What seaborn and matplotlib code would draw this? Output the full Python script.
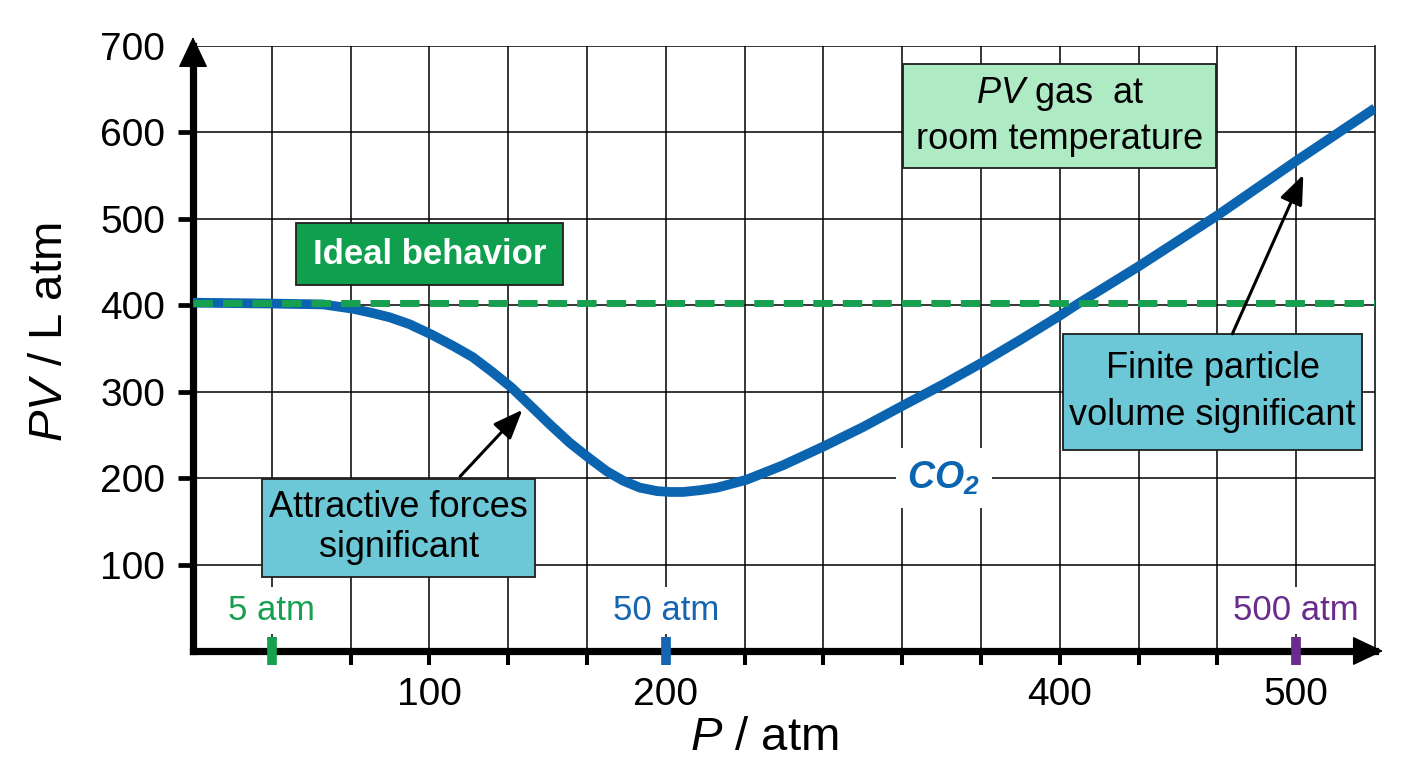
import matplotlib
matplotlib.use("Agg")
import matplotlib.pyplot as plt
from matplotlib.patches import Rectangle
import seaborn as sns

# pressure axis is measured in grid divisions (printed values are not evenly spaced)
p_grid = [0, 1.0, 1.65, 2.03, 2.28, 2.5, 2.75, 3.03, 3.3, 3.55, 3.81, 4.04, 4.28,
          4.53, 4.78, 5.03, 5.25, 5.46, 5.67, 5.89, 6.05, 6.22, 6.43, 6.65, 7.02,
          7.49, 8.01, 8.5, 9.01, 9.51, 10.0, 10.5, 11.0, 11.2, 12.0, 13.0, 14.0, 15.0]
pv_co2 = [403, 402, 401, 396, 391, 386, 378, 366, 353, 340, 322, 305, 284,
          262, 241, 223, 208, 197, 189, 185, 184, 184, 186, 189, 198,
          215, 237, 259, 284, 308, 333, 360, 388, 400, 445, 504, 567, 628]
ideal_pv = 403

pv_ticks = [100, 200, 300, 400, 500, 600, 700]
p_tick_pos = [3, 6, 11, 14]
p_tick_labels = ["100", "200", "400", "500"]
p_gridlines = list(range(1, 15))
p_marker_pos = [1, 6, 14]
p_marker_labels = ["5 atm", "50 atm", "500 atm"]

BLUE = "#0b64b0"
GREEN = "#17a04f"
marker_colors = ["#17a04f", "#1565b0", "#6a2c8c"]

sns.set_theme(style="white")
plt.rcParams["font.family"] = ["Liberation Sans", "DejaVu Sans"]
plt.rcParams["text.color"] = "black"
plt.rcParams["axes.labelcolor"] = "black"
plt.rcParams["mathtext.fontset"] = "custom"
plt.rcParams["mathtext.rm"] = "Liberation Sans"
plt.rcParams["mathtext.it"] = "Liberation Sans:italic"
plt.rcParams["mathtext.bf"] = "Liberation Sans:bold"
plt.rcParams["mathtext.bfit"] = "Liberation Sans:italic:bold"

W, H = 1408, 768
fig = plt.figure(figsize=(W / 100, H / 100), dpi=100)
ax = fig.add_axes([193 / W, 1 - 651 / H, (1375 - 193) / W, 605 / H])

# CO2 curve and ideal gas line
sns.lineplot(x=p_grid, y=pv_co2, ax=ax, color=BLUE, linewidth=7,
             estimator=None, sort=False, solid_capstyle="butt",
             solid_joinstyle="round", zorder=3)
ax.axhline(ideal_pv, color=GREEN, linewidth=5, dashes=(2.8, 1.45), zorder=4)

ax.set_xlim(0, 15)
ax.set_ylim(0, 700)
ax.set_xticks(p_tick_pos, p_tick_labels)
ax.set_xticks([k for k in p_gridlines if k not in p_tick_pos], minor=True)
ax.set_yticks(pv_ticks)
ax.set_axisbelow(True)
ax.grid(True, which="both", axis="x", color="black", linewidth=1.1)
ax.grid(True, which="major", axis="y", color="black", linewidth=1.1)

ax.tick_params(axis="x", which="both", bottom=True, direction="out", length=10,
               width=2.9, color="black", labelsize=28, labelcolor="black", pad=9)
ax.tick_params(axis="y", which="major", left=True, direction="out", length=11,
               width=3.4, color="black", labelsize=28, labelcolor="black", pad=9)
ax.yaxis.get_major_ticks()[-1].tick1line.set_visible(False)

ax.spines["top"].set_visible(False)
ax.spines["right"].set_color("black")
ax.spines["right"].set_linewidth(1.1)
for side in ["left", "bottom"]:
    ax.spines[side].set_color("black")
    ax.spines[side].set_linewidth(5.2)

# axis arrow heads
head = dict(arrowstyle="-|>,head_length=2.0,head_width=0.95", mutation_scale=10,
            color="black", lw=1, shrinkA=0, shrinkB=0)
ax.annotate("", xy=(0, 1.015), xytext=(0, 0.97), xycoords="axes fraction",
            arrowprops=head, annotation_clip=False)
ax.annotate("", xy=(1.0068, 0), xytext=(0.97, 0), xycoords="axes fraction",
            arrowprops=head, annotation_clip=False)

# pressure markers on the axis
for pos, lab, col in zip(p_marker_pos, p_marker_labels, marker_colors):
    ax.plot([pos], [0], marker="|", markersize=19.5, markeredgewidth=7,
            color=col, clip_on=False, zorder=6)
    ax.text(pos, 47, lab, color=col, fontsize=25, ha="center", va="center",
            bbox=dict(boxstyle="square,pad=0.2", fc="white", ec="none"), zorder=4)

ax.text(9.53, 200, r"$\mathbfit{CO}_\mathbfit{2}$", color=BLUE, fontsize=27,
        ha="center", va="center",
        bbox=dict(boxstyle="square,pad=0.3", fc="white", ec="none"), zorder=4)


def note_box(x0, x1, y0, y1, fc):
    ax.add_patch(Rectangle((x0, y0), x1 - x0, y1 - y0, facecolor=fc,
                           edgecolor="#1f1f1f", linewidth=1.3, zorder=3))


note_box(1.31, 4.70, 424, 495, "#0f9f4e")
ax.text(3.0, 459, "Ideal behavior", color="white", fontsize=25, fontweight="bold",
        ha="center", va="center", zorder=4)

note_box(9.01, 12.98, 559, 679, "#aeeac4")
ax.text(11.0, 619, "$PV$ gas  at\nroom temperature", fontsize=26, ha="center",
        va="center", multialignment="center", linespacing=1.3, zorder=4)

note_box(0.88, 4.34, 86, 199, "#6cc7d6")
ax.text(2.61, 143, "Attractive forces\nsignificant", fontsize=26, ha="center",
        va="center", multialignment="center", linespacing=1.2, zorder=4)

note_box(11.04, 14.84, 233, 367, "#6cc7d6")
ax.text(12.94, 300, "Finite particle\nvolume significant", fontsize=26, ha="center",
        va="center", multialignment="center", linespacing=1.45, zorder=4)

pointer = dict(arrowstyle="-|>,head_length=0.9,head_width=0.36", mutation_scale=20,
               color="black", lw=2.2, shrinkA=0, shrinkB=0)
ax.annotate("", xy=(4.18, 279), xytext=(3.39, 202), arrowprops=pointer, zorder=5)
ax.annotate("", xy=(14.09, 551), xytext=(13.19, 367), arrowprops=pointer, zorder=5)

ax.set_xlabel("$P$ / atm", fontsize=34)
ax.xaxis.set_label_coords(0.483, -0.107)
ax.set_ylabel("$PV$ / L atm", fontsize=34)
ax.yaxis.set_label_coords(-0.102, 0.527)

fig.savefig("out.png", dpi=100)
